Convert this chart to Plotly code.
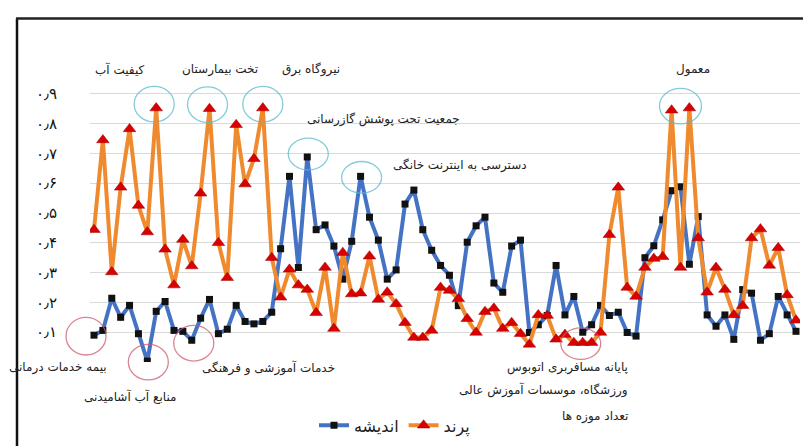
import plotly.graph_objects as go

# ---------------- data ----------------
andisheh = [0.09, 0.106, 0.214, 0.15, 0.19, 0.095, 0.003, 0.17, 0.203, 0.106,
            0.103, 0.073, 0.147, 0.21, 0.095, 0.11, 0.19, 0.136, 0.128, 0.136,
            0.167, 0.38, 0.623, 0.317, 0.688, 0.444, 0.46, 0.389, 0.278, 0.405,
            0.623, 0.486, 0.409, 0.278, 0.309, 0.53, 0.577, 0.444, 0.375, 0.324,
            0.291, 0.189, 0.402, 0.457, 0.486, 0.265, 0.234, 0.389, 0.409, 0.099,
            0.125, 0.156, 0.324, 0.158, 0.22, 0.10, 0.125, 0.19, 0.156, 0.167,
            0.099, 0.087, 0.35, 0.39, 0.477, 0.575, 0.588, 0.328, 0.488, 0.158,
            0.12, 0.158, 0.076, 0.243, 0.231, 0.073, 0.095, 0.22, 0.158, 0.103]

parand = [0.444, 0.745, 0.302, 0.586, 0.782, 0.525, 0.436, 0.852, 0.378, 0.258,
          0.411, 0.322, 0.566, 0.85, 0.40, 0.283, 0.796, 0.597, 0.682, 0.852,
          0.35, 0.217, 0.311, 0.258, 0.243, 0.165, 0.317, 0.112, 0.367, 0.228,
          0.231, 0.355, 0.21, 0.234, 0.195, 0.132, 0.082, 0.082, 0.106, 0.25,
          0.24, 0.212, 0.145, 0.099, 0.169, 0.18, 0.112, 0.132, 0.095, 0.059,
          0.158, 0.156, 0.076, 0.092, 0.065, 0.065, 0.065, 0.099, 0.427, 0.586,
          0.25, 0.22, 0.317, 0.347, 0.353, 0.845, 0.317, 0.852, 0.416, 0.234,
          0.317, 0.243, 0.158, 0.189, 0.416, 0.446, 0.324, 0.383, 0.225, 0.14]

tick_vals = [0, 0.1, 0.2, 0.3, 0.4, 0.5, 0.6, 0.7, 0.8, 0.9]
tick_text = ["", "۰٫۱", "۰٫۲", "۰٫۳", "۰٫۴", "۰٫۵", "۰٫۶", "۰٫۷", "۰٫۸", "۰٫۹"]

series_names = ["اندیشه", "پرند"]

# labels: (text, x px, y px, xanchor)
labels = [
    ("کیفیت آب", 112, 62, "center"),
    ("تخت بیمارستان", 212, 62, "center"),
    ("نیروگاه برق", 303, 62, "center"),
    ("جمعیت تحت پوشش گازرسانی", 375, 112, "center"),
    ("دسترسی به اینترنت خانگی", 452, 159, "center"),
    ("معمول", 685, 62, "center"),
    ("بیمه خدمات درمانی", 50, 363, "center"),
    ("منابع آب آشامیدنی", 122, 392, "center"),
    ("خدمات آموزشی و فرهنگی", 260, 363, "center"),
    ("پایانه مسافربری اتوبوس", 622, 363, "right"),
    ("ورزشگاه، موسسات آموزش عالی", 622, 385, "right"),
    ("تعداد موزه ها", 622, 412, "right"),
]

# highlight circles: (series, [indices], dx, dy, rx, ry, colour)
TEAL = "rgba(90,185,205,0.75)"
PINK = "rgba(205,90,110,0.75)"
circles = [
    ("p", [7], -2, -4, 20, 18, TEAL),
    ("p", [13], -2, -4, 20, 18, TEAL),
    ("p", [19], 0, -4, 20, 18, TEAL),
    ("p", [65, 67], 0, -2, 21, 18, TEAL),
    ("a", [24], 1, -3, 20, 16, TEAL),
    ("a", [30], 1, 1, 20, 16, TEAL),
    ("a", [0], -8, 1, 20, 19, PINK),
    ("a", [6], 1, 1, 20, 18, PINK),
    ("a", [11], 2, 3, 20, 18, PINK),
    ("p", [54, 56], -2, 1, 20, 16, PINK),
]

# ---------------- layout geometry (pixels) ----------------
W, H = 811, 446
L, R, T, B = 82, 792, 56, 357
XPAD = 0.45
Y0, Y1 = 0.0, 1.0

xs = list(range(len(parand)))
XMIN, XMAX = -XPAD, len(parand) - 1 + XPAD


def px(x):
    return (x - L) / (R - L)


def py(y):
    return (B - y) / (B - T)


def data_to_px(xv, yv):
    """map a data point through the axis scales to page pixels"""
    return (L + (xv - XMIN) / (XMAX - XMIN) * (R - L),
            B - (yv - Y0) / (Y1 - Y0) * (B - T))


fig = go.Figure()
fig.add_trace(go.Scatter(
    x=xs, y=andisheh, name=series_names[0], mode="lines+markers",
    line=dict(color="#4472C4", width=4),
    marker=dict(symbol="square", size=7, color="#111111"),
    hoverinfo="skip",
))
fig.add_trace(go.Scatter(
    x=xs, y=parand, name=series_names[1], mode="lines+markers",
    line=dict(color="#F08A2E", width=4),
    marker=dict(symbol="triangle-up", size=11, color="#D80000",
                line=dict(color="#A00000", width=0.5)),
    hoverinfo="skip",
))

shapes = []
for s, idxs, dx, dy, rx, ry, col in circles:
    vals = parand if s == "p" else andisheh
    xv = sum(xs[i] for i in idxs) / len(idxs)
    yv = max(vals[i] for i in idxs) if s == "p" and col == TEAL else \
        min(vals[i] for i in idxs) if len(idxs) > 1 else vals[idxs[0]]
    cx, cy = data_to_px(xv, yv)
    cx += dx
    cy += dy
    shapes.append(dict(
        type="circle", xref="paper", yref="paper",
        x0=px(cx - rx), x1=px(cx + rx), y0=py(cy + ry), y1=py(cy - ry),
        line=dict(color=col, width=1.3), layer="above",
    ))

# frame lines (left and top)
shapes.append(dict(type="line", xref="paper", yref="paper",
                   x0=px(9), x1=px(9), y0=py(H + 5), y1=py(10),
                   line=dict(color="#111111", width=2.5)))
shapes.append(dict(type="line", xref="paper", yref="paper",
                   x0=px(8), x1=px(W + 5), y0=py(10), y1=py(10),
                   line=dict(color="#222222", width=2.5)))

annotations = []
for txt, x, y, xa in labels:
    annotations.append(dict(
        text=txt, xref="paper", yref="paper", x=px(x), y=py(y),
        xanchor=xa, yanchor="middle", showarrow=False,
        font=dict(family="DejaVu Sans", size=12, color="#222222"),
    ))

fig.update_layout(
    width=W, height=H,
    margin=dict(l=L, r=W - R, t=T, b=H - B, pad=0),
    paper_bgcolor="white", plot_bgcolor="white",
    showlegend=True,
    legend=dict(orientation="h", x=px(306), y=py(421), xanchor="left",
                yanchor="middle", font=dict(family="DejaVu Sans", size=16,
                                            color="#222222"),
                bgcolor="rgba(0,0,0,0)", itemwidth=30, tracegroupgap=0),
    shapes=shapes,
    annotations=annotations,
    xaxis=dict(range=[XMIN, XMAX], showgrid=False,
               zeroline=False, showticklabels=False, showline=False,
               fixedrange=True),
    yaxis=dict(range=[Y0, Y1], tickvals=tick_vals, ticktext=tick_text,
               showgrid=True, gridcolor="#d9d9d9", gridwidth=1,
               zeroline=False, showline=False, ticks="",
               ticklabelstandoff=32,
               tickfont=dict(family="DejaVu Sans", size=15, color="#111111")),
)

fig.write_html("out.html")
